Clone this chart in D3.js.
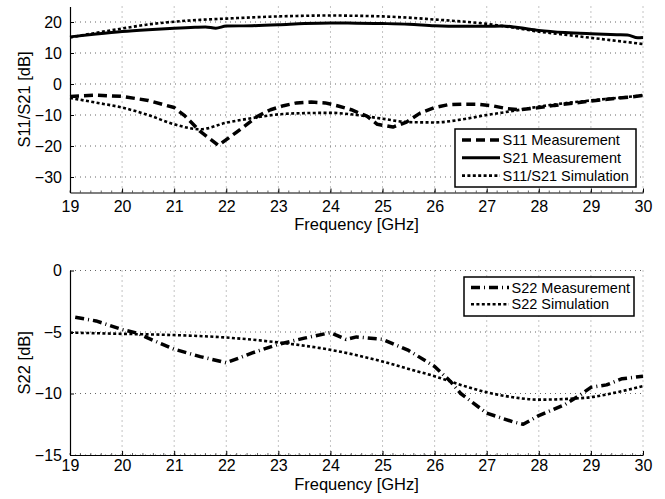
<html>
<head>
<script src="https://d3js.org/d3.v7.min.js"></script>
<style>
  body { margin: 0; background: #fff; }
  text { font-family: "Liberation Sans", Arial, sans-serif; fill: #000; }
</style>
</head>
<body>
<svg width="665" height="499" id="chart"></svg>
<script>

// Data, frequency in GHz and values in dB

// Top panel: S11 measurement (dashed)
var s11MeasFreq = [19, 19.5, 20, 20.5, 21, 21.2, 21.5, 21.85, 22.2, 22.6, 22.85, 23.1, 23.35, 23.63, 23.9, 24.13, 24.4, 24.7, 24.9, 25.2, 25.46, 25.72, 26, 26.25, 26.55, 26.8, 27.1, 27.4, 27.64, 27.97, 28.3, 28.6, 29.2, 29.75, 30];
var s11MeasDb = [-4.0, -3.6, -4.0, -5.3, -7.6, -10.2, -15.3, -19.8, -15.5, -10.4, -8.3, -7.0, -6.1, -5.8, -6.1, -7.0, -8.3, -10.4, -13.0, -13.9, -12.3, -9.4, -7.6, -6.7, -6.5, -6.5, -7.0, -8.0, -8.3, -7.7, -6.9, -6.3, -5.1, -4.2, -3.7];

// Top panel: S21 measurement (solid)
var s21MeasFreq = [19, 19.5, 20, 20.5, 21, 21.4, 21.6, 21.8, 22, 22.5, 23, 23.5, 24, 24.5, 25, 25.5, 26, 26.5, 27, 27.3, 27.6, 28, 28.5, 29, 29.5, 29.7, 29.9, 30];
var s21MeasDb = [15.2, 16.1, 16.9, 17.5, 18.0, 18.3, 18.4, 18.0, 18.7, 18.8, 19.1, 19.5, 19.7, 19.6, 19.5, 19.3, 18.8, 18.6, 18.6, 18.7, 18.2, 17.3, 16.6, 16.2, 15.9, 15.8, 14.9, 15.0];

// Top panel: S11 and S21 simulation (dotted)
var simTopFreq = [19, 19.5, 20, 20.5, 21, 21.5, 22, 22.5, 23, 23.5, 24, 24.5, 25, 25.5, 26, 26.5, 27, 27.5, 28, 28.5, 29, 29.5, 30];
var s21SimDb = [15.0, 16.5, 17.9, 19.2, 20.1, 20.7, 21.1, 21.5, 21.8, 22.0, 22.1, 22.0, 21.8, 21.4, 20.8, 20.2, 19.4, 18.2, 16.9, 15.9, 14.9, 13.9, 12.9];
var s11SimDb = [-4.5, -6.0, -7.6, -10.0, -13.0, -14.6, -12.5, -11.0, -9.8, -9.4, -9.3, -10.0, -11.2, -12.3, -12.4, -11.5, -10.0, -8.7, -7.3, -6.2, -5.3, -4.5, -3.7];

// Bottom panel: S22 measurement (dash-dot)
var s22MeasFreq = [19.1, 19.5, 20, 20.3, 20.5, 21, 21.5, 22, 22.5, 23, 23.5, 24, 24.3, 24.5, 25, 25.5, 26, 26.3, 26.5, 27, 27.5, 27.7, 28, 28.5, 28.8, 29, 29.3, 29.6, 30];
var s22MeasDb = [-3.8, -4.1, -4.8, -5.1, -5.5, -6.4, -7.0, -7.5, -6.7, -6.0, -5.5, -5.05, -5.6, -5.4, -5.6, -6.5, -7.8, -9.0, -10.0, -11.6, -12.3, -12.5, -11.8, -10.9, -10.1, -9.5, -9.3, -8.8, -8.6];

// Bottom panel: S22 simulation (dotted)
var s22SimFreq = [19, 20, 21, 22, 23, 24, 25, 25.5, 26, 26.5, 27, 27.5, 28, 28.5, 29, 29.5, 30];
var s22SimDb = [-5.05, -5.15, -5.25, -5.45, -5.85, -6.45, -7.4, -8.0, -8.6, -9.3, -9.9, -10.3, -10.5, -10.45, -10.3, -9.9, -9.4];

// Tick values
var freqTicks = [19, 20, 21, 22, 23, 24, 25, 26, 27, 28, 29, 30];
var topTicks = [20, 10, 0, -10, -20, -30];
var bottomTicks = [0, -5, -10, -15];

// Legend labels
var topLegend = ["S11 Measurement", "S21 Measurement", "S11/S21 Simulation"];
var bottomLegend = ["S22 Measurement", "S22 Simulation"];

var svg = d3.select("#chart");

// line styles used for the curves and the legend samples
var styles = {
  dashed: { width: 3.5, dash: "9,5" },
  solid: { width: 3, dash: null },
  dotted: { width: 2.6, dash: "3,2.4" },
  dashdot: { width: 3.5, dash: "9,4,1,4" }
};

var fmt = function(v) { return v < 0 ? "\u2212" + Math.abs(v) : String(v); };

// shared x scale for both panels
var x = d3.scaleLinear().domain([19, 30]).range([70, 643]);

var yTop = d3.scaleLinear().domain([-35, 25]).range([192.5, 6.5]);
var yBottom = d3.scaleLinear().domain([-15, 0]).range([455, 270.5]);

var drawPanel = function(y, yTicks, yLabel, xPad, xLabelY) {
  var g = svg.append("g");
  var top = y.range()[1], bottom = y.range()[0];

  // dotted grid
  g.selectAll(".vgrid").data(freqTicks.slice(1)).enter().append("line")
    .attr("x1", function(d) { return x(d); }).attr("x2", function(d) { return x(d); })
    .attr("y1", top).attr("y2", bottom)
    .attr("stroke", "#888").attr("stroke-width", 1).attr("stroke-dasharray", "1,4");
  g.selectAll(".hgrid").data(yTicks).enter().append("line")
    .attr("x1", x.range()[0]).attr("x2", x.range()[1])
    .attr("y1", function(d) { return y(d); }).attr("y2", function(d) { return y(d); })
    .attr("stroke", "#666").attr("stroke-width", 1).attr("stroke-dasharray", "1,4");

  // x axis with inward ticks
  var xAxis = g.append("g").attr("transform", "translate(0," + bottom + ")")
    .call(d3.axisBottom(x).tickValues(freqTicks).tickSizeInner(-4).tickSizeOuter(0).tickPadding(xPad).tickFormat(fmt));
  xAxis.select(".domain").attr("stroke-width", 1.2);
  xAxis.selectAll("text").attr("font-size", "16px").attr("font-family", "Liberation Sans, Arial, sans-serif");

  // minor ticks on x
  g.selectAll(".xminor").data(d3.range(19, 30.01, 0.2)).enter().append("line")
    .attr("x1", function(d) { return x(d); }).attr("x2", function(d) { return x(d); })
    .attr("y1", bottom).attr("y2", bottom - 2).attr("stroke", "#000").attr("stroke-width", 0.6);

  var yAxis = g.append("g").attr("transform", "translate(" + x.range()[0] + ",0)")
    .call(d3.axisLeft(y).tickValues(yTicks).tickSizeInner(-4).tickSizeOuter(0).tickPadding(8).tickFormat(fmt));
  yAxis.select(".domain").attr("stroke-width", 1.2);
  yAxis.selectAll("text").attr("font-size", "16px").attr("font-family", "Liberation Sans, Arial, sans-serif");

  // axis titles
  g.append("text").attr("x", (x.range()[0] + x.range()[1]) / 2).attr("y", xLabelY)
    .attr("text-anchor", "middle").attr("font-size", "16.5px").text("Frequency [GHz]");
  g.append("text").attr("transform", "translate(30," + (top + bottom) / 2 + ") rotate(-90)")
    .attr("text-anchor", "middle").attr("font-size", "16.5px").text(yLabel);
};

var drawCurve = function(y, xs, ys, style, curve) {
  var pts = xs.map(function(f, i) { return [f, ys[i]]; });
  var line = d3.line().x(function(d) { return x(d[0]); }).y(function(d) { return y(d[1]); }).curve(curve);
  svg.append("path").datum(pts).attr("d", line)
    .attr("fill", "none").attr("stroke", "#000")
    .attr("stroke-width", style.width)
    .attr("stroke-dasharray", style.dash)
    .attr("stroke-linejoin", "round");
};

var drawLegend = function(box, labels, legendStyles) {
  var g = svg.append("g");
  g.append("rect").attr("x", box.x).attr("y", box.y).attr("width", box.w).attr("height", box.h)
    .attr("fill", "#fff").attr("stroke", "#000").attr("stroke-width", 1.5);
  labels.forEach(function(lab, i) {
    var cy = box.y + box.first + i * box.step;
    var st = legendStyles[i];
    g.append("line").attr("x1", box.x + 7).attr("x2", box.x + 45).attr("y1", cy).attr("y2", cy)
      .attr("stroke", "#000").attr("stroke-width", st.width).attr("stroke-dasharray", st.dash);
    g.append("text").attr("x", box.x + 47.5).attr("y", cy + 5).attr("font-size", "14.5px").text(lab);
  });
};

// Top panel
drawPanel(yTop, topTicks, "S11/S21 [dB]", 8, 230);
drawCurve(yTop, simTopFreq, s21SimDb, styles.dotted, d3.curveMonotoneX);
drawCurve(yTop, simTopFreq, s11SimDb, styles.dotted, d3.curveMonotoneX);
drawCurve(yTop, s21MeasFreq, s21MeasDb, styles.solid, d3.curveMonotoneX);
drawCurve(yTop, s11MeasFreq, s11MeasDb, styles.dashed, d3.curveLinear);
drawLegend({ x: 455, y: 129, w: 181, h: 58, first: 11, step: 17.8 }, topLegend,
  [styles.dashed, styles.solid, styles.dotted]);

// Bottom panel
drawPanel(yBottom, bottomTicks, "S22 [dB]", 5, 490);
drawCurve(yBottom, s22SimFreq, s22SimDb, styles.dotted, d3.curveMonotoneX);
drawCurve(yBottom, s22MeasFreq, s22MeasDb, styles.dashdot, d3.curveLinear);
drawLegend({ x: 464, y: 277, w: 170, h: 39, first: 10.5, step: 16.8 }, bottomLegend,
  [styles.dashdot, styles.dotted]);

</script>
</body>
</html>
